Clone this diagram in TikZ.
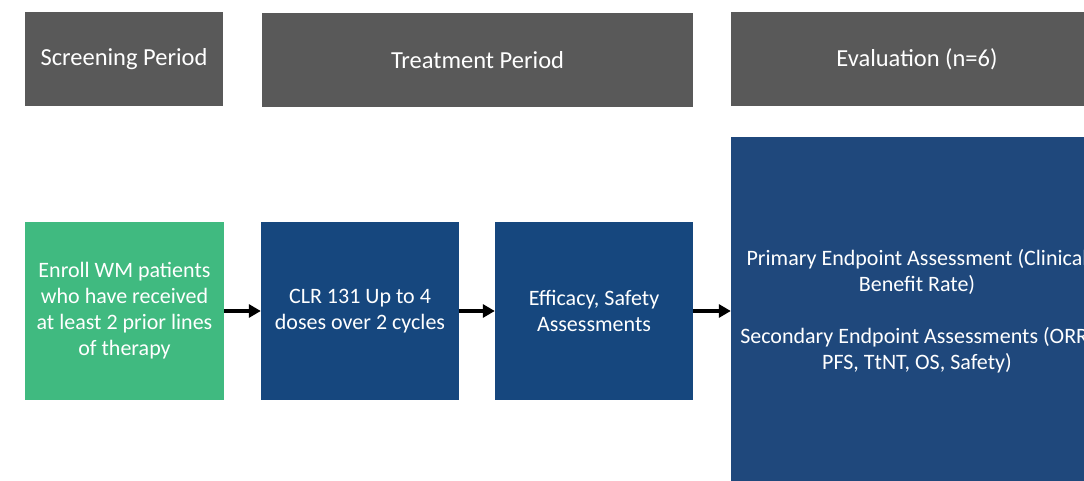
\documentclass[tikz,border=0pt]{standalone}
\usepackage{fontspec}
\setmainfont{Carlito}
\usetikzlibrary{arrows.meta}
\definecolor{hdrgray}{RGB}{89,89,89}
\definecolor{enrollgreen}{RGB}{64,186,128}
\definecolor{stepblue}{RGB}{22,71,126}
\definecolor{evalblue}{RGB}{31,72,124}
\tikzset{
  header/.style={fill=hdrgray,text=white,minimum height=94pt,inner sep=0pt,font=\fontsize{24.5}{28}\selectfont},
  stepbox/.style={fill=stepblue,text=white,minimum width=198pt,minimum height=178pt,inner sep=0pt,align=center,font=\fontsize{22}{26}\selectfont},
  flow/.style={line width=4pt,-{Triangle[length=12pt,width=13pt]}}
}
\begin{document}
\begin{tikzpicture}[x=1pt,y=-1pt]
\useasboundingbox(0,0) rectangle (1084,481);
\clip(0,0) rectangle (1084,481);
% period headers
\node[header,minimum width=198pt](screen) at (124,59){Screening Period};
\node[header,minimum width=431pt](treat) at (477.5,60){Treatment Period};
\node[header,minimum width=372pt](evalhdr) at (917,59){Evaluation (n=6)};
%
\node[stepbox,fill=enrollgreen,minimum width=199pt](enroll) at (124.5,311){Enroll WM patients\\who have received\\at least 2 prior lines\\of therapy};
\node[stepbox](clr) at (360,311){CLR 131 Up to 4\\doses over 2 cycles};
\node[stepbox](effic) at (594,311){Efficacy, Safety\\Assessments};
\node[stepbox,fill=evalblue,minimum width=372pt,minimum height=348pt](evalbox) at (917,311)
  {Primary Endpoint Assessment (Clinical\\Benefit Rate)\\[26pt]Secondary Endpoint Assessments (ORR,\\PFS, TtNT, OS, Safety)};
%
\draw[flow](enroll.east)--(clr.west);
\draw[flow](clr.east)--(effic.west);
\draw[flow](effic.east)--(evalbox.west|-effic.east);
\end{tikzpicture}
\end{document}
